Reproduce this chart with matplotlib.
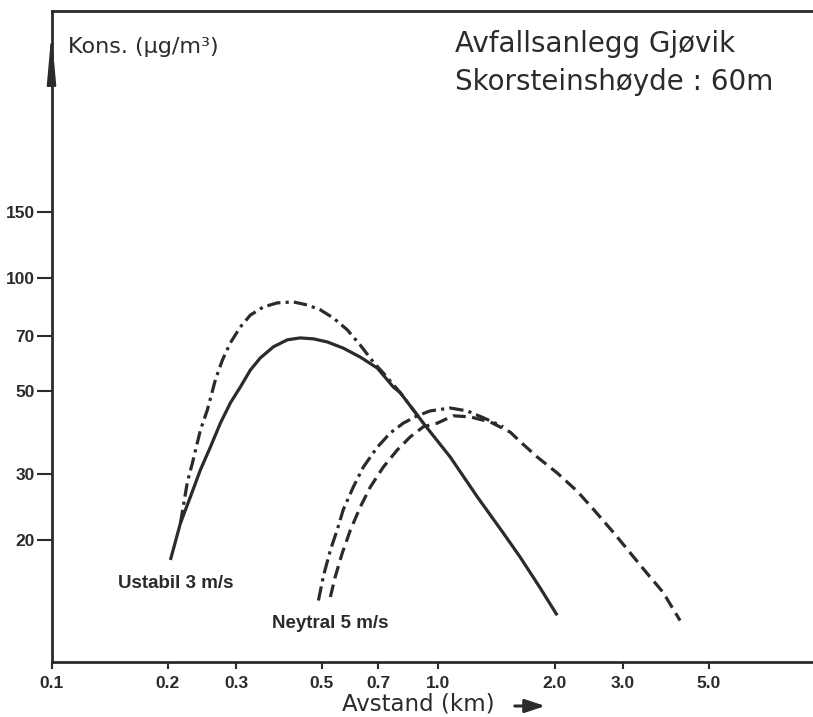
import matplotlib
matplotlib.use("Agg")
import matplotlib.pyplot as plt

# ---- data ----
xticks = [0.1, 0.2, 0.3, 0.5, 0.7, 1.0, 2.0, 3.0, 5.0]
xtick_labels = ["0.1", "0.2", "0.3", "0.5", "0.7", "1.0", "2.0", "3.0", "5.0"]
yticks = [20, 30, 50, 70, 100, 150]
ytick_labels = ["20", "30", "50", "70", "100", "150"]

# Ustabil 3 m/s, solid
ust_solid_x = [0.203, 0.2155, 0.2287, 0.2427, 0.2575, 0.2733, 0.290, 0.3078, 0.3267,
               0.3467, 0.3746, 0.4073, 0.4397, 0.4754, 0.5166, 0.568, 0.6286, 0.6957,
               0.765, 0.798, 0.915, 1.074, 1.261, 1.472, 1.629, 1.835, 2.03]
ust_solid_y = [17.7, 22.2, 26.1, 30.8, 35.4, 41.0, 46.4, 51.2, 56.8,
               61.2, 65.5, 68.4, 69.2, 68.8, 67.5, 65.0, 61.5, 57.5,
               51.2, 49.4, 41.0, 33.3, 26.1, 20.9, 18.0, 14.9, 12.6]

# Ustabil 3 m/s, dash-dot
ust_dd_x = [0.2155, 0.2246, 0.2314, 0.2427, 0.253, 0.2653, 0.2766, 0.290, 0.3078,
            0.3267, 0.353, 0.3837, 0.4219, 0.4587, 0.4956, 0.5355, 0.5819, 0.6286,
            0.679, 0.7208, 0.798, 0.915]
ust_dd_y = [22.2, 28.6, 32.1, 39.3, 44.5, 53.5, 60.4, 67.1, 74.0,
            79.6, 83.7, 85.8, 86.3, 84.7, 82.2, 78.2, 72.7, 66.2,
            59.7, 55.8, 49.4, 41.0]

# Neytral 5 m/s, dash-dot
ney_dd_x = [0.490, 0.5045, 0.526, 0.548, 0.568, 0.603, 0.640, 0.696, 0.7515,
            0.812, 0.882, 0.953, 1.074, 1.188, 1.307, 1.472]
ney_dd_y = [13.8, 16.0, 18.8, 21.3, 24.1, 27.7, 31.3, 35.4, 38.6,
            41.0, 42.9, 44.2, 45.0, 44.2, 42.4, 40.1]

# Neytral 5 m/s, dashed
ney_da_x = [0.526, 0.5418, 0.565, 0.593, 0.6286, 0.6673, 0.7208, 0.7839, 0.8466,
            0.915, 0.994, 1.093, 1.21, 1.363, 1.535, 1.629, 1.803, 2.03, 2.287,
            2.515, 2.833, 3.134, 3.467, 3.815, 4.22]
ney_da_y = [14.1, 16.0, 18.5, 21.3, 24.5, 27.7, 31.3, 34.8, 37.7,
            40.1, 41.0, 42.9, 42.6, 41.3, 38.8, 36.6, 33.3, 30.2, 27.0,
            24.2, 21.0, 18.5, 16.3, 14.5, 12.2]

INK = "#2b2b2b"

fig = plt.figure(figsize=(8.13, 7.17), dpi=100)
ax = fig.add_axes([51.5 / 813, (717 - 662) / 717, 1 - 51.5 / 813, 651 / 717])
ax.set_xscale("log")
ax.set_yscale("log")
ax.set_xlim(0.1, 9.31)
ax.set_ylim(9.46, 515)

lw = 2.3
ax.plot(ust_solid_x, ust_solid_y, color=INK, lw=lw, solid_capstyle="butt",
        solid_joinstyle="round")
ax.plot(ust_dd_x, ust_dd_y, color=INK, lw=lw, dashes=(4.2, 1.6, 1.0, 1.6))
ax.plot(ney_dd_x, ney_dd_y, color=INK, lw=lw, dashes=(4.5, 1.6, 1.0, 1.6))
ax.plot(ney_da_x, ney_da_y, color=INK, lw=lw, dashes=(4.0, 2.0))

# axes styling
for s in ["left", "bottom", "top"]:
    ax.spines[s].set_linewidth(2.0)
    ax.spines[s].set_color(INK)
ax.spines["right"].set_visible(False)

ax.set_xticks(xticks)
ax.set_xticklabels(xtick_labels)
ax.set_yticks(yticks)
ax.set_yticklabels(ytick_labels)
ax.minorticks_off()
ax.tick_params(axis="x", direction="out", length=5, width=1.5, color=INK, pad=5)
ax.tick_params(axis="y", direction="out", length=11, width=1.5, color=INK, pad=1)
for lab in ax.get_xticklabels() + ax.get_yticklabels():
    lab.set_fontfamily("Liberation Sans")
    lab.set_fontweight("bold")
    lab.set_fontsize(12.5)
    lab.set_color(INK)

# texts
fig.text(455 / 813, 1 - 52 / 717, "Avfallsanlegg Gjøvik", fontsize=20,
         family="DejaVu Sans", color=INK, va="baseline", ha="left")
fig.text(455 / 813, 1 - 90 / 717, "Skorsteinshøyde : 60m", fontsize=20,
         family="DejaVu Sans", color=INK, va="baseline", ha="left")
fig.text(68 / 813, 1 - 53 / 717, "Kons. (μg/m³)", fontsize=16,
         family="DejaVu Sans", color=INK, va="baseline", ha="left")
fig.text(176 / 813, 1 - 583 / 717, "Ustabil 3 m/s", fontsize=13.5,
         family="Liberation Sans", weight="bold", color=INK, va="center", ha="center")
fig.text(330 / 813, 1 - 623 / 717, "Neytral 5 m/s", fontsize=13.5,
         family="Liberation Sans", weight="bold", color=INK, va="center", ha="center")
fig.text(342 / 813, 1 - 704 / 717, "Avstand (km)", fontsize=16.5,
         family="DejaVu Sans", color=INK, va="center", ha="left")

# arrow after the x-axis title
fig.patches  # (decoration arrows drawn via annotate in figure fraction)
ax.annotate("", xy=(548 / 813, 1 - 706 / 717), xytext=(512 / 813, 1 - 706 / 717),
            xycoords="figure fraction", textcoords="figure fraction",
            arrowprops=dict(arrowstyle="-|>,head_length=0.6,head_width=0.2",
                            color=INK, lw=2.2, mutation_scale=20),
            annotation_clip=False)

# arrow head on the y axis
ax.annotate("", xy=(0.0, 0.971), xytext=(0.0, 0.915), xycoords="axes fraction",
            arrowprops=dict(arrowstyle="-|>,head_length=1.0,head_width=0.09",
                            color=INK, lw=1.5, mutation_scale=30),
            annotation_clip=False)

fig.savefig("out.png", dpi=100, facecolor="white")
